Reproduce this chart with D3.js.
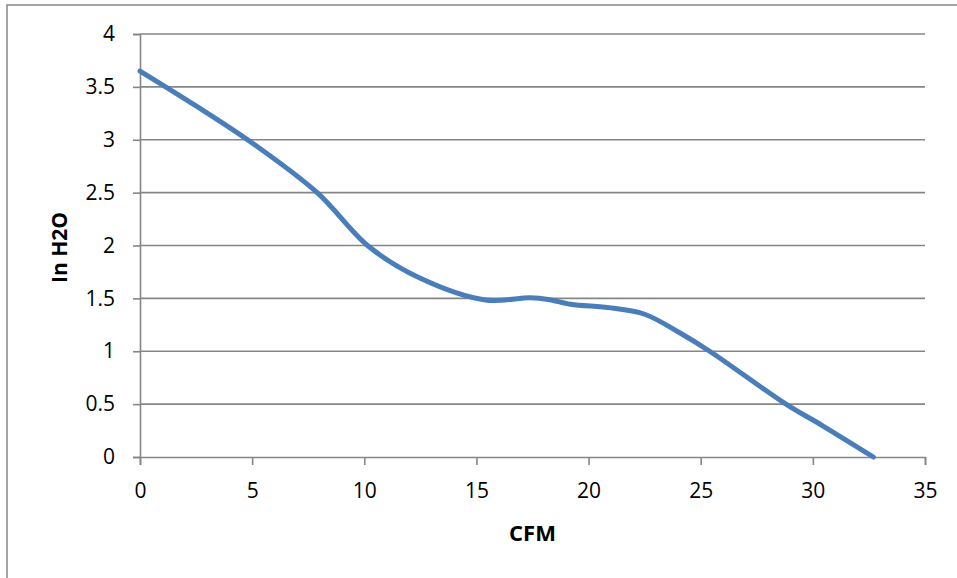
<!DOCTYPE html>
<html>
<head>
<meta charset="utf-8">
<script src="https://cdn.jsdelivr.net/npm/d3@7"></script>
<style>
  html, body { margin: 0; padding: 0; background: #fff; }
  svg { display: block; }
  text { font-family: "Open Sans", "Liberation Sans", sans-serif; fill: #000; }
</style>
</head>
<body>
<svg id="chart" width="957" height="578"></svg>
<script>
// Data
const cfm     = [0, 2.5, 5, 7.9, 10.2, 12.5, 15.4, 17.4, 18.2, 19.2, 21.0, 22.5, 24.1, 25.4, 28.8, 30.4, 32.7];
const inH2O   = [3.65, 3.32, 2.97, 2.50, 1.99, 1.69, 1.485, 1.505, 1.49, 1.445, 1.41, 1.35, 1.17, 1.00, 0.50, 0.30, 0.00];
const xTicks  = [0, 5, 10, 15, 20, 25, 30, 35];
const yTicks  = [0, 0.5, 1, 1.5, 2, 2.5, 3, 3.5, 4];
const xTitle  = "CFM";
const yTitle  = "In H2O";

const svg = d3.select("#chart");
const margin = { left: 140, right: 32, top: 34, bottom: 121 };
const W = 957, H = 578;

// outer chart frame (right and bottom edges are outside the picture)
svg.append("rect")
  .attr("x", 7).attr("y", 5)
  .attr("width", 1000).attr("height", 1000)
  .attr("fill", "none").attr("stroke", "#868686").attr("stroke-width", 1.5);

const x = d3.scaleLinear().domain([0, 35]).range([margin.left, W - margin.right]);
const y = d3.scaleLinear().domain([0, 4]).range([H - margin.bottom, margin.top]);

// gridlines
svg.append("g")
  .selectAll("line")
  .data(yTicks.filter(d => d > 0))
  .join("line")
  .attr("x1", x(0)).attr("x2", x(35))
  .attr("y1", d => y(d)).attr("y2", d => y(d))
  .attr("stroke", "#868686").attr("stroke-width", 1.6);

// y axis
const yAxis = svg.append("g")
  .attr("transform", `translate(${x(0)},0)`)
  .call(d3.axisLeft(y).tickValues(yTicks).tickSize(7).tickPadding(18).tickFormat(d3.format("")));
// x axis
const xAxis = svg.append("g")
  .attr("transform", `translate(0,${y(0)})`)
  .call(d3.axisBottom(x).tickValues(xTicks).tickSize(8).tickPadding(18).tickFormat(d3.format("")));

[yAxis, xAxis].forEach(g => {
  g.select(".domain").attr("stroke", "#868686").attr("stroke-width", 1.6);
  g.selectAll(".tick line").attr("stroke", "#868686").attr("stroke-width", 1.6);
  g.selectAll(".tick text").attr("font-size", 21).attr("font-family", "'Open Sans', sans-serif").attr("fill", "#000");
});

// line
const line = d3.line()
  .x((d, i) => x(cfm[i]))
  .y((d, i) => y(inH2O[i]))
  .curve(d3.curveCatmullRom.alpha(0.5));

svg.append("path")
  .datum(cfm)
  .attr("d", line)
  .attr("fill", "none")
  .attr("stroke", "#4a7ebb")
  .attr("stroke-width", 5)
  .attr("stroke-linecap", "round")
  .attr("stroke-linejoin", "round");

// axis titles
svg.append("text")
  .attr("x", (x(0) + x(35)) / 2).attr("y", 541)
  .attr("text-anchor", "middle")
  .attr("font-size", 22).attr("font-weight", "bold")
  .text(xTitle);

svg.append("text")
  .attr("transform", `translate(66.5,247.5) rotate(-90)`)
  .attr("text-anchor", "middle")
  .attr("font-size", 21).attr("font-weight", "bold")
  .text(yTitle);
</script>
</body>
</html>
